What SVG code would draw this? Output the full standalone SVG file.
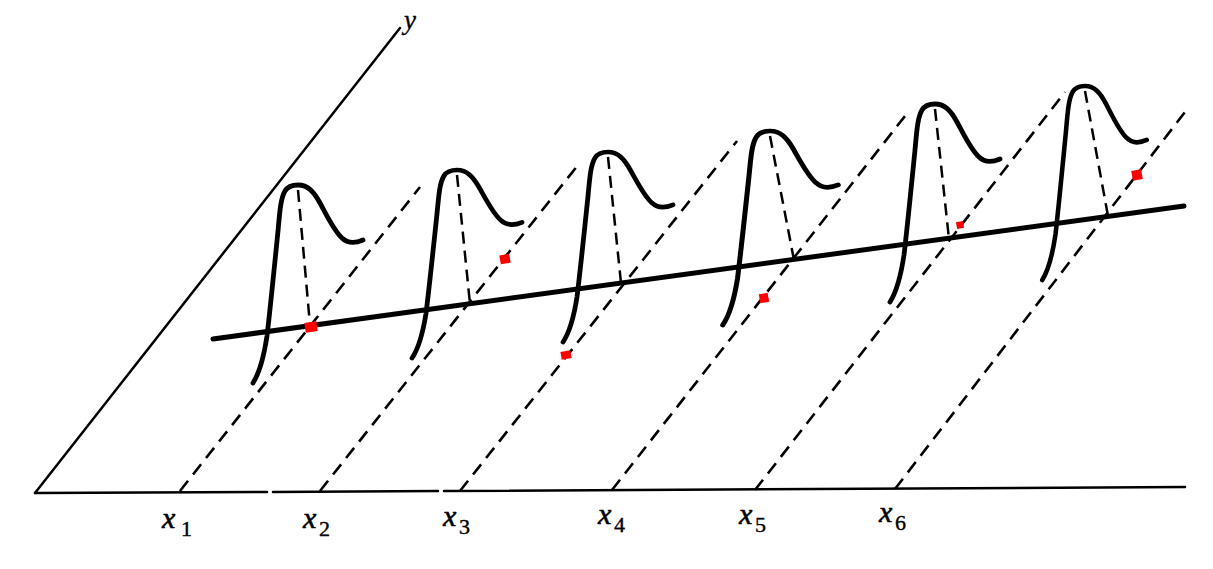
<svg xmlns="http://www.w3.org/2000/svg" xmlns:xlink="http://www.w3.org/1999/xlink" width="1213" height="569" viewBox="0 0 1213 569">
<style>
.axis{stroke:#000;stroke-width:2.5;fill:none;stroke-linecap:round}
.guide{stroke:#000;stroke-width:2.6;fill:none;stroke-dasharray:13 8}
.drop{stroke:#000;stroke-width:2.5;fill:none;stroke-dasharray:12 7}
.bell{stroke:#000;stroke-width:4.8;fill:none;stroke-linecap:round;stroke-linejoin:round}
.reg{stroke:#000;stroke-width:5;fill:none;stroke-linecap:round}
.pt{fill:#f00}
.lab{font-family:"Liberation Serif",serif;font-style:italic;font-size:30px;fill:#000;stroke:#000;stroke-width:0.6}
.sub{font-family:"Liberation Serif",serif;font-size:22px;fill:#000;stroke:#000;stroke-width:0.4}
</style>
<defs>
<path id="bellShape" d="M-45,197 C-38,186 -34,170 -31,150 C-28,125 -24,85 -20,45 C-18,22 -17,12 -13,5 C-10,0 -5,-1 0,-1 C10,-1 16,6 22,17 C28,28 36,45 44,52 C50,58 58,57 65,54"/>
</defs>
<rect width="1213" height="569" fill="#fff"/>
<g id="axes">
<path class="axis" d="M35,493 L400,28"/>
<path class="axis" d="M35,493 L267,492 M273,492 L438,491 M444,491 L1185,487"/>
<text class="lab" x="404" y="29" style="font-size:27px;stroke-width:0.3">y</text>
</g>
<g id="connectors">
<path class="guide" d="M180,491 L420,187"/>
<path class="guide" d="M320,491 L578,165"/>
<path class="guide" d="M460,491 L737,141"/>
<path class="guide" d="M612,490 L905,116"/>
<path class="guide" d="M755,490 L1065,92"/>
<path class="guide" d="M895,489 L1185,112"/>
<path class="drop" d="M298,190 L310,325"/>
<path class="drop" d="M457,175 L470,304"/>
<path class="drop" d="M608,157 L621,283"/>
<path class="drop" d="M770,136 L794,260"/>
<path class="drop" d="M935,109 L949,239"/>
<path class="drop" d="M1085,91 L1108,216"/>
</g>
<g id="regression">
<path class="reg" d="M213,339 L1184,206"/>
</g>
<g id="dist1"><use xlink:href="#bellShape" class="bell" transform="translate(298,186)"/></g>
<g id="dist2"><use xlink:href="#bellShape" class="bell" transform="translate(457,171) scale(1,0.95)"/></g>
<g id="dist3"><use xlink:href="#bellShape" class="bell" transform="translate(608,153) scale(1,0.96)"/></g>
<g id="dist4"><use xlink:href="#bellShape" class="bell" transform="translate(770,132) scale(1.05,0.98)"/></g>
<g id="dist5"><use xlink:href="#bellShape" class="bell" transform="translate(935,105)"/></g>
<g id="dist6"><use xlink:href="#bellShape" class="bell" transform="translate(1085,87) scale(0.95,0.98)"/></g>
<g id="points">
<rect class="pt" x="-6" y="-5" width="12" height="10" transform="translate(311,327) rotate(-8)"/>
<rect class="pt" x="-5" y="-4.5" width="10" height="9" transform="translate(505,259) rotate(-10)"/>
<rect class="pt" x="-5" y="-4" width="10" height="8" transform="translate(566,355) rotate(-10)"/>
<rect class="pt" x="-4.5" y="-4.5" width="9" height="9" transform="translate(764,298) rotate(-10)"/>
<rect class="pt" x="-3.5" y="-3.5" width="7" height="7" transform="translate(960,225) rotate(-10)"/>
<rect class="pt" x="-5" y="-5" width="10" height="10" transform="translate(1137,175) rotate(-10)"/>
</g>
<g id="labels">
<text class="lab" x="162" y="528">x</text><text class="sub" x="181" y="536">1</text>
<text class="lab" x="303" y="528">x</text><text class="sub" x="319" y="536">2</text>
<text class="lab" x="443" y="526">x</text><text class="sub" x="459" y="534">3</text>
<text class="lab" x="598" y="524">x</text><text class="sub" x="614" y="532">4</text>
<text class="lab" x="739" y="524">x</text><text class="sub" x="755" y="532">5</text>
<text class="lab" x="879" y="522">x</text><text class="sub" x="895" y="530">6</text>
</g>
</svg>
